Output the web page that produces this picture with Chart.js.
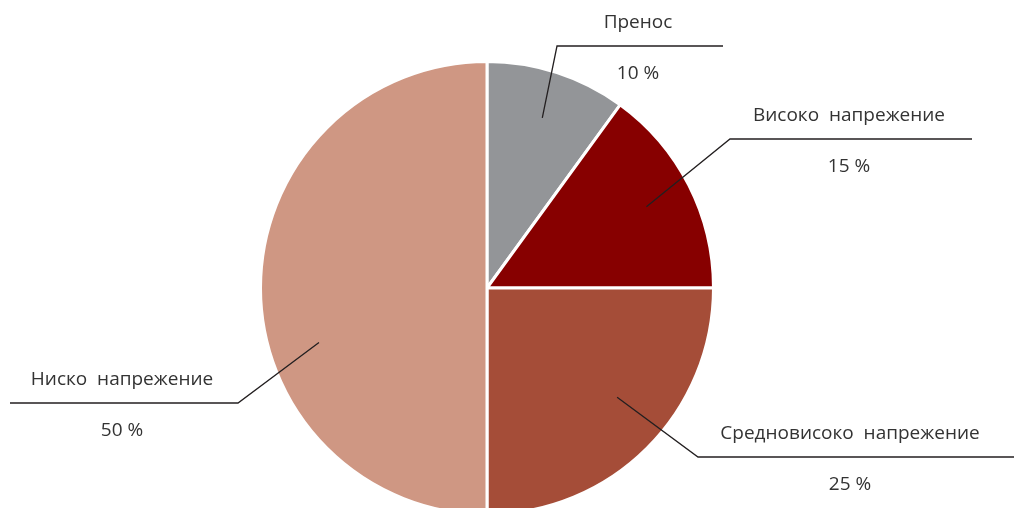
<!DOCTYPE html>
<html>
<head>
<meta charset="utf-8">
<script src="https://cdn.jsdelivr.net/npm/chart.js@4.4.1/dist/chart.umd.min.js"></script>
<style>
  html, body { margin: 0; padding: 0; background: #fff; overflow: hidden; }
  #wrap { width: 1014px; height: 508px; overflow: hidden; }
</style>
</head>
<body>
<div id="wrap"><canvas id="pie" width="1014" height="576"></canvas></div>
<script>
// ── Data ────────────────────────────────────────────────────────────────────
const categories = ['Пренос', 'Високо  напрежение', 'Средновисоко  напрежение', 'Ниско  напрежение'];
const shares     = [10, 15, 25, 50];
const colors     = ['#939598', '#870000', '#a54d38', '#cf9783'];

// leader layout per slice: angle nudge (deg), radius fraction, elbow offset from centre, line end x
const leaders = [
  { nudge: 0,   rf: 0.79, elbow: [70, -242],  endX: 723,  textX: 638 },
  { nudge: 0,   rf: 0.79, elbow: [243, -149], endX: 972,  textX: 849 },
  { nudge: -5,  rf: 0.75, elbow: [211, 169],  endX: 1014, textX: 850 },
  { nudge: -18, rf: 0.78, elbow: [-249, 115], endX: 10,   textX: 122 },
];

const FONT = '19px "Open Sans", "DejaVu Sans", sans-serif';

const leaderPlugin = {
  id: 'leaders',
  afterDatasetsDraw(chart) {
    const { ctx } = chart;
    const arcs = chart.getDatasetMeta(0).data;
    ctx.save();
    arcs.forEach((arc, i) => {
      const L   = leaders[i];
      const mid = (arc.startAngle + arc.endAngle) / 2 + L.nudge * Math.PI / 180;
      const r   = arc.outerRadius * L.rf;
      const sx  = arc.x + Math.cos(mid) * r;
      const sy  = arc.y + Math.sin(mid) * r;
      const ex  = arc.x + L.elbow[0];
      const ey  = arc.y + L.elbow[1];

      ctx.strokeStyle = '#231f20';
      ctx.lineWidth   = 1.3;
      ctx.beginPath();
      ctx.moveTo(sx, sy);
      ctx.lineTo(ex, ey);
      ctx.lineTo(L.endX, ey);
      ctx.stroke();

      ctx.fillStyle    = '#333';
      ctx.font         = FONT;
      ctx.textAlign    = 'center';
      ctx.textBaseline = 'middle';
      ctx.fillText(categories[i], L.textX, ey - 23);
      ctx.fillText(shares[i] + ' %', L.textX, ey + 28);
    });
    ctx.restore();
  },
};

new Chart(document.getElementById('pie'), {
  type: 'pie',
  data: {
    labels: categories,
    datasets: [{
      data            : shares,
      backgroundColor : colors,
      borderColor     : '#fff',
      borderWidth     : 3,
      hoverOffset     : 0,
    }],
  },
  options: {
    responsive : false,
    animation  : false,
    layout     : { padding: { left: 259, right: 299, top: 60, bottom: 60 } },
    plugins: {
      legend : { display: false },
      tooltip: { enabled: false },
    },
  },
  plugins: [leaderPlugin],
});
</script>
</body>
</html>
